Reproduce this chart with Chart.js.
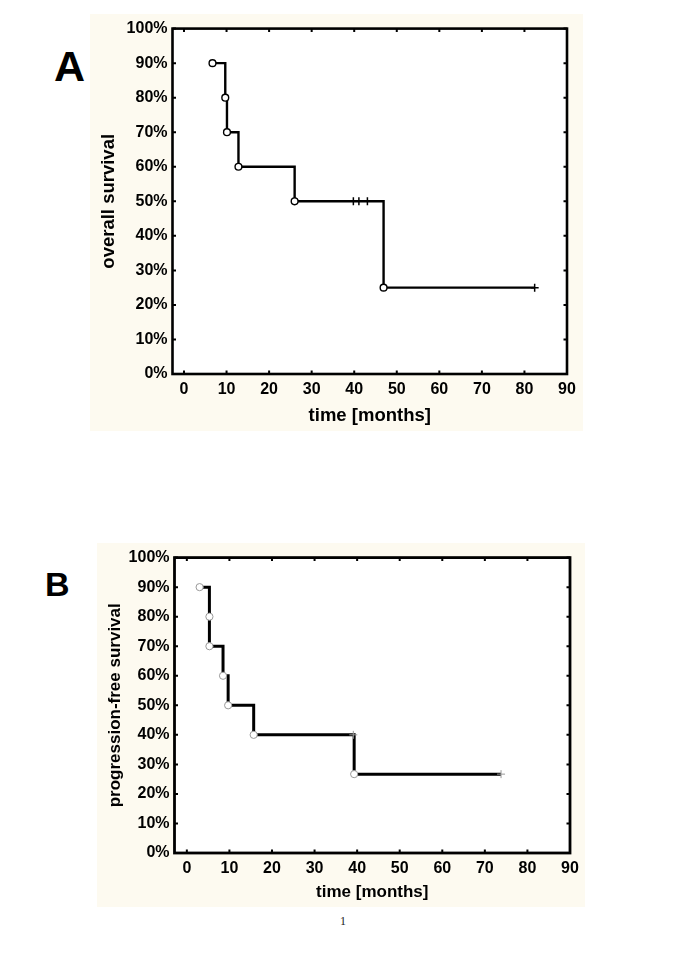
<!DOCTYPE html>
<html>
<head>
<meta charset="utf-8">
<script src="https://cdn.jsdelivr.net/npm/chart.js@4.4.1/dist/chart.umd.min.js"></script>
<style>
  html, body { margin: 0; padding: 0; background: #ffffff; }
  body { width: 685px; height: 969px; position: relative; overflow: hidden; font-family: "Liberation Sans", Arial, sans-serif; }
  .panel { position: absolute; background: #fdfaf0; }
  #wrapA { left: 90px; top: 14px; width: 493px; height: 417px; }
  #wrapB { left: 97px; top: 543px; width: 488px; height: 364px; }
  .lbl { position: absolute; font-weight: bold; color: #000; background: #fff; line-height: 1; }
  #lblA { left: 30px; top: 30px; width: 67px; height: 57px; font-size: 43px; }
  #lblA span { position: absolute; left: 24px; top: 15px; }
  #lblB { left: 45px; top: 567px; font-size: 34px; background: transparent; }
  #pageno { position: absolute; left: 340px; top: 914px; font-family: "Liberation Serif", serif; font-size: 12px; color: #222; }
</style>
</head>
<body>
<div id="lblA" class="lbl"><span>A</span></div>
<div id="lblB" class="lbl">B</div>
<div id="wrapA" class="panel"><canvas id="chartA" width="493" height="417"></canvas></div>
<div id="wrapB" class="panel"><canvas id="chartB" width="488" height="364"></canvas></div>
<div id="pageno">1</div>
<script>
// ---- data ----
const monthTicks = [0, 10, 20, 30, 40, 50, 60, 70, 80, 90];
const pctTicks = [0, 10, 20, 30, 40, 50, 60, 70, 80, 90, 100];

// Panel A: overall survival
const osCurveTimes = [6.7, 9.7, 10.1, 12.8, 26.0, 46.9, 82.4];
const osCurveSurv  = [90, 80, 70, 60, 50, 25, 25];
const osEventTimes = [6.7, 9.7, 10.1, 12.8, 26.0, 46.9];
const osEventSurv  = [90, 80, 70, 60, 50, 25];
const osCensorTimes = [39.8, 41.1, 43.1, 82.4];
const osCensorSurv  = [50, 50, 50, 25];

// Panel B: progression-free survival
const pfsCurveTimes = [3.0, 5.3, 5.3, 8.5, 9.7, 15.7, 39.3, 73.8];
const pfsCurveSurv  = [90, 80, 70, 60, 50, 40, 26.7, 26.7];
const pfsEventTimes = [3.0, 5.3, 5.3, 8.5, 9.7, 15.7, 39.3];
const pfsEventSurv  = [90, 80, 70, 60, 50, 40, 26.7];
const pfsCensorTimes = [39.1, 73.8];
const pfsCensorSurv  = [40, 26.7];

function pts(xs, ys) { return xs.map((x, i) => ({ x: x, y: ys[i] })); }

const framePlugin = {
  id: 'frame',
  beforeDraw(chart) {
    const { ctx, chartArea: a } = chart;
    ctx.save();
    ctx.fillStyle = '#ffffff';
    ctx.fillRect(a.left, a.top, a.right - a.left, a.bottom - a.top);
    ctx.restore();
  },
  afterDatasetsDraw(chart, args, opts) {
    const { ctx, chartArea: a, scales } = chart;
    const x = scales.x, y = scales.y;
    const len = 3.5;
    ctx.save();
    ctx.strokeStyle = '#000';
    ctx.lineWidth = 2;
    ctx.beginPath();
    x.ticks.forEach(t => {
      const px = x.getPixelForValue(t.value);
      ctx.moveTo(px, a.bottom); ctx.lineTo(px, a.bottom - len);
      ctx.moveTo(px, a.top); ctx.lineTo(px, a.top + len);
    });
    y.ticks.forEach(t => {
      const py = y.getPixelForValue(t.value);
      ctx.moveTo(a.left, py); ctx.lineTo(a.left + len, py);
      ctx.moveTo(a.right, py); ctx.lineTo(a.right - len, py);
    });
    ctx.stroke();
    ctx.lineWidth = opts.width || 2.6;
    ctx.strokeRect(a.left, a.top, a.right - a.left, a.bottom - a.top);
    ctx.restore();
  }
};

function makeChart(id, cfg) {
  const tickFont = { family: "'Liberation Sans', Arial, sans-serif", size: 16, weight: 'bold' };
  const titleFont = { family: "'Liberation Sans', Arial, sans-serif", size: cfg.titleSize, weight: 'bold' };
  return new Chart(document.getElementById(id), {
    type: 'line',
    data: {
      datasets: [
        {
          data: pts(cfg.curveX, cfg.curveY),
          stepped: 'before',
          borderColor: '#000',
          borderWidth: cfg.lineW,
          pointRadius: 0,
          fill: false,
          order: 3
        },
        {
          type: 'scatter',
          data: pts(cfg.eventX, cfg.eventY),
          showLine: false,
          pointStyle: 'circle',
          pointRadius: cfg.circR,
          pointBorderWidth: cfg.circBW,
          pointBackgroundColor: '#fff',
          pointBorderColor: cfg.markColor,
          order: 1
        },
        {
          type: 'scatter',
          data: pts(cfg.censorX, cfg.censorY),
          showLine: false,
          pointStyle: 'cross',
          pointRadius: cfg.crossR,
          pointBorderWidth: cfg.crossBW,
          pointBorderColor: cfg.markColor,
          order: 0
        }
      ]
    },
    options: {
      responsive: false,
      animation: false,
      events: [],
      layout: { padding: { left: 0, top: cfg.padTop, right: cfg.padRight, bottom: 0 } },
      plugins: { legend: { display: false }, tooltip: { enabled: false }, frame: { width: cfg.frameW } },
      scales: {
        x: {
          type: 'linear',
          min: cfg.xMin, max: 90,
          afterBuildTicks: s => { s.ticks = monthTicks.map(v => ({ value: v })); },
          afterFit: s => { s.height = cfg.xH; },
          grid: { display: false, drawTicks: false },
          border: { display: false },
          ticks: { color: '#000', font: tickFont, padding: 6, maxRotation: 0, autoSkip: false },
          title: { display: true, text: 'time [months]', color: '#000', font: titleFont, padding: { top: 0, bottom: cfg.xTitlePad } }
        },
        y: {
          type: 'linear',
          min: 0, max: 100,
          afterBuildTicks: s => { s.ticks = pctTicks.map(v => ({ value: v })); },
          afterFit: s => { s.width = cfg.yW; },
          grid: { display: false, drawTicks: false },
          border: { display: false },
          ticks: { color: '#000', font: tickFont, padding: 5, autoSkip: false, callback: v => v + '%' },
          title: { display: true, text: cfg.yTitle, color: '#000', font: titleFont, padding: { top: cfg.yTitlePad, bottom: 0 } }
        }
      }
    },
    plugins: [framePlugin]
  });
}

makeChart('chartA', {
  curveX: osCurveTimes, curveY: osCurveSurv,
  eventX: osEventTimes, eventY: osEventSurv,
  censorX: osCensorTimes, censorY: osCensorSurv,
  markColor: '#000', lineW: 2.4, circR: 3.4, circBW: 1.4, crossR: 4, crossBW: 1.5,
  xMin: -2.7, padTop: 12.5, padRight: 16, xH: 57, yW: 82.5, frameW: 2.6,
  yTitle: 'overall survival', titleSize: 18.5, xTitlePad: 4.2, yTitlePad: 7.9
});

makeChart('chartB', {
  curveX: pfsCurveTimes, curveY: pfsCurveSurv,
  eventX: pfsEventTimes, eventY: pfsEventSurv,
  censorX: pfsCensorTimes, censorY: pfsCensorSurv,
  markColor: '#9a9a9a', lineW: 3, circR: 3.6, circBW: 1, crossR: 4, crossBW: 1,
  xMin: -2.9, padTop: 12, padRight: 15, xH: 54, yW: 77.5, frameW: 2.8,
  yTitle: 'progression-free survival', titleSize: 17, xTitlePad: 4.4, yTitlePad: 8.4
});
</script>
</body>
</html>
